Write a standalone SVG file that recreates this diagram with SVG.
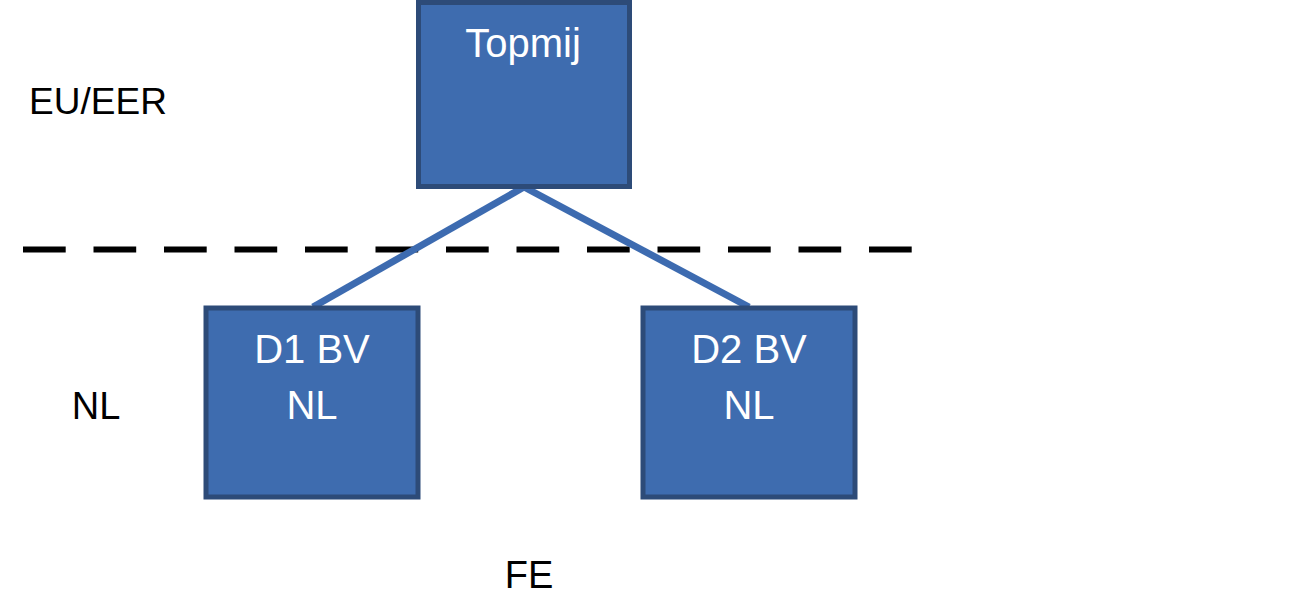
<svg xmlns="http://www.w3.org/2000/svg" width="1299" height="596" viewBox="0 0 1299 596">
<style>
.box{fill:#3e6caf;stroke:#2d4b78;stroke-width:5}
.wt{fill:#ffffff;font-family:"Liberation Sans",Arial,sans-serif;font-size:40px;text-anchor:middle}
.bt{fill:#000000;font-family:"Liberation Sans",Arial,sans-serif;text-anchor:middle}
.conn{stroke:#3d6bb0;stroke-width:7;fill:none}
</style>
<rect width="1299" height="596" fill="#ffffff"/>
<g id="divider">
<line x1="23" y1="249.5" x2="912" y2="249.5" stroke="#000000" stroke-width="6" stroke-dasharray="42.7 27.8"/>
</g>
<g id="labels">
<text class="bt" x="98" y="114" font-size="37">EU/EER</text>
<text class="bt" x="96" y="419" font-size="38">NL</text>
<text class="bt" x="529" y="588" font-size="38">FE</text>
</g>
<g id="connectors">
<line class="conn" x1="524" y1="187" x2="313" y2="307"/>
<line class="conn" x1="524" y1="187" x2="749" y2="307"/>
</g>
<g id="topmij">
<rect class="box" x="418.5" y="2.5" width="211" height="184"/>
<text class="wt" x="523" y="57">Topmij</text>
</g>
<g id="d1">
<rect class="box" x="206" y="308" width="212" height="189"/>
<text class="wt" x="312" y="363">D1 BV</text>
<text class="wt" x="312" y="419">NL</text>
</g>
<g id="d2">
<rect class="box" x="643" y="308" width="212" height="189"/>
<text class="wt" x="749" y="363">D2 BV</text>
<text class="wt" x="749" y="419">NL</text>
</g>
</svg>
